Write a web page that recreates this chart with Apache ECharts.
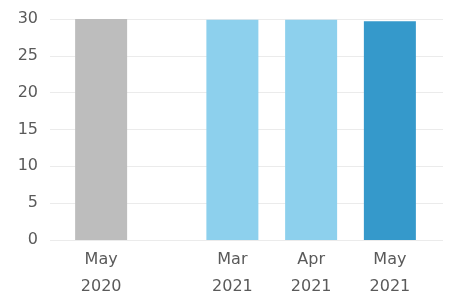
<!DOCTYPE html>
<html>
<head>
<meta charset="utf-8">
<script src="https://cdn.jsdelivr.net/npm/echarts@6/dist/echarts.min.js"></script>
<style>
  html, body { margin: 0; padding: 0; background: #fff; }
  #chart { width: 449px; height: 295px; }
</style>
</head>
<body>
<div id="chart"></div>
<script>
// blank entries are empty gaps on the axis
var categories = ['May\n2020', '', '', '', '', 'Mar\n2021', '', '', 'Apr\n2021', '', '', 'May\n2021']
var values = [30, null, null, null, null, 29.9, null, null, 29.9, null, null, 29.7]
var yTicks = [0, 5, 10, 15, 20, 25, 30]

var barColors = { 'May\n2020': '#bdbdbd', 'Mar\n2021': '#8dd0ed', 'Apr\n2021': '#8dd0ed', 'May\n2021': '#3599cb' }
var textColor = '#5a5a5a'

var chart = echarts.init(document.getElementById('chart'), null, { renderer: 'canvas' })

chart.setOption({
  animation: false,
  grid: [
    // background grid: y labels + gridlines
    { left: 50, right: 6, top: 19, bottom: 55, outerBoundsMode: 'none', containLabel: false },
    // bars
    { left: 88, width: 315, top: 19, bottom: 55, outerBoundsMode: 'none', containLabel: false }
  ],
  xAxis: [
    { gridIndex: 0, type: 'value', show: false, min: 0, max: 1 },
    {
      gridIndex: 1,
      type: 'category',
      data: categories,
      axisLine: { show: false },
      axisTick: { show: false },
      axisLabel: {
        interval: 0,
        margin: 6,
        color: textColor,
        fontFamily: 'DejaVu Sans',
        fontSize: 16,
        lineHeight: 27
      }
    }
  ],
  yAxis: [
    {
      gridIndex: 0,
      type: 'value',
      min: yTicks[0],
      max: yTicks[yTicks.length - 1],
      interval: 5,
      axisLine: { show: false },
      axisTick: { show: false },
      axisLabel: {
        margin: 12,
        color: textColor,
        fontFamily: 'DejaVu Sans',
        fontSize: 16
      },
      splitLine: { lineStyle: { color: '#ebebeb', width: 1 } }
    },
    {
      gridIndex: 1,
      type: 'value',
      min: yTicks[0],
      max: yTicks[yTicks.length - 1],
      show: false
    }
  ],
  series: [{
    type: 'bar',
    xAxisIndex: 1,
    yAxisIndex: 1,
    barWidth: 52,
    clip: false,
    data: values.map(function (v, i) {
      return { value: v, itemStyle: { color: barColors[categories[i]] || '#ccc' } }
    })
  }]
})
</script>
</body>
</html>
